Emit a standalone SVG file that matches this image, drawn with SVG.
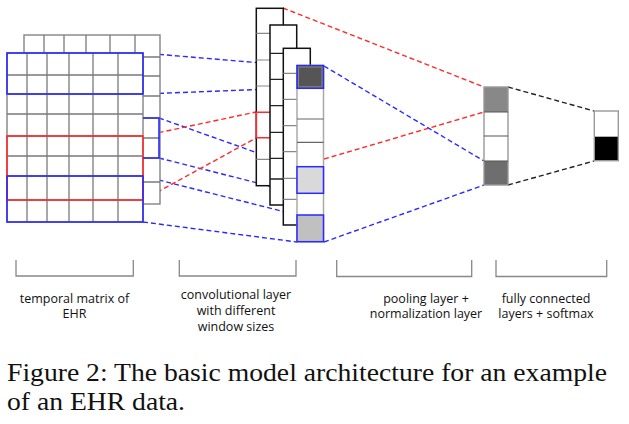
<svg xmlns="http://www.w3.org/2000/svg" width="629" height="424" viewBox="0 0 629 424">
<style>
.grid{fill:#fff;stroke:#7a7a7a;stroke-width:1.3}
.gl{stroke:#7a7a7a;stroke-width:1.3;fill:none}
.blue{fill:none;stroke:#2a2aff;stroke-width:1.6}
.red{fill:none;stroke:#ff2a2a;stroke-width:1.6}
.col{fill:#fff;stroke:#111;stroke-width:1.5}
.cl{stroke:#888;stroke-width:1.2}
.cl2{stroke:#222;stroke-width:1.3}
.db{stroke:#2a2aff;stroke-width:1.4;stroke-dasharray:5 3;fill:none}
.dr{stroke:#ff2a2a;stroke-width:1.4;stroke-dasharray:5 3;fill:none}
.dk{stroke:#222;stroke-width:1.4;stroke-dasharray:5 3;fill:none}
.br{fill:none;stroke:#888;stroke-width:1.3}
.lbl{font-family:"Open Sans","Liberation Sans",sans-serif;font-size:12.5px;fill:#111;text-anchor:middle}
.cap{font-family:"Liberation Serif",serif;font-size:25px;fill:#111}
</style>
<rect width="629" height="424" fill="#fff"/>

<g id="connectors">
<line class="db" x1="143" y1="53" x2="297" y2="66"/>
<line class="db" x1="143" y1="94" x2="297" y2="88"/>
<line class="db" x1="159" y1="118" x2="297" y2="167"/>
<line class="db" x1="159" y1="158" x2="297" y2="193"/>
<line class="db" x1="143" y1="176" x2="297" y2="215"/>
<line class="db" x1="143" y1="222" x2="297" y2="242"/>
<line class="dr" x1="143" y1="136" x2="256" y2="112"/>
<line class="dr" x1="143" y1="200" x2="256" y2="138"/>
<line class="dr" x1="283" y1="8" x2="484" y2="87"/>
<line class="dr" x1="324" y1="159" x2="484" y2="112"/>
<line class="db" x1="324" y1="66" x2="484" y2="161"/>
<line class="db" x1="324" y1="242" x2="484" y2="185"/>
<line class="dk" x1="508" y1="87" x2="594" y2="111"/>
<line class="dk" x1="508" y1="185" x2="594" y2="161"/>
</g>

<g id="ehr-matrix">
<g transform="translate(17,-18)">
<rect class="grid" x="7" y="53" width="136" height="169"/>
<path class="gl" d="M27 53V222M47 53V222M69 53V222M93 53V222M118 53V222M7 75H143M7 94H143M7 114H143M7 136H143M7 156H143M7 176H143M7 200H143"/>
</g>
<rect class="grid" x="7" y="53" width="136" height="169"/>
<path class="gl" d="M27 53V222M47 53V222M69 53V222M93 53V222M118 53V222M7 75H143M7 94H143M7 114H143M7 136H143M7 156H143M7 176H143M7 200H143"/>
<rect class="red" x="7" y="136" width="136" height="64"/>
<rect class="blue" x="7" y="53" width="136" height="41"/>
<rect class="blue" x="7" y="176" width="136" height="46"/>
<path class="blue" d="M143 118H159V158H143"/>
</g>

<g id="conv-layer">
<rect class="col" x="256.3" y="8.3" width="27" height="177.4"/>
<path class="cl" d="M256.3 33.3H283.3M256.3 60H283.3M256.3 86H283.3M256.3 159.3H283.3"/>
<path class="red" d="M270 112.3H256.3V137.7H270"/>
<rect class="col" x="270" y="25" width="26.7" height="180"/>
<path class="cl2" d="M270 53.3H296.7M270 79.3H296.7M270 105.7H296.7M270 132.3H296.7M270 158.3H296.7M270 179H296.7"/>
<rect class="col" x="283.3" y="48.3" width="27" height="176.7"/>
<path class="cl" d="M283.3 73.3H310.3M283.3 99.3H310.3M283.3 125.7H310.3M283.3 151.7H310.3M283.3 178.3H310.3M283.3 199.3H310.3"/>
<rect x="297" y="65.5" width="26.5" height="176.2" fill="#fff" stroke="#aaa" stroke-width="1.5"/>
<path d="M297 119H323.5M297 142.3H323.5" stroke="#666" stroke-width="1.2"/>
<rect x="297" y="65.5" width="26.5" height="22.8" fill="#555" stroke="#2a2aff" stroke-width="1.5"/>
<rect x="298.5" y="67" width="23.5" height="19.8" fill="#555" stroke="#888" stroke-width="1"/>
<rect x="297" y="166.7" width="26.5" height="26.6" fill="#d9d9d9" stroke="#2a2aff" stroke-width="1.5"/>
<rect x="297" y="215" width="26.5" height="26.7" fill="#c0c0c0" stroke="#2a2aff" stroke-width="1.5"/>
</g>

<g id="pooling-layer">
<rect x="484" y="87" width="24" height="25" fill="#888"/>
<rect x="484" y="112" width="24" height="24" fill="#fff"/>
<rect x="484" y="136" width="24" height="25" fill="#fff"/>
<rect x="484" y="161" width="24" height="24" fill="#6e6e6e"/>
<rect x="484" y="87" width="24" height="98" fill="none" stroke="#999" stroke-width="1.4"/>
<path d="M484 112H508M484 136H508M484 161H508" stroke="#555" stroke-width="1.2"/>
</g>

<g id="output-layer">
<rect x="594.3" y="111" width="24" height="25.7" fill="#fff"/>
<rect x="594.3" y="136.7" width="24" height="24" fill="#000"/>
<rect x="594.3" y="111" width="24" height="49.7" fill="none" stroke="#999" stroke-width="1.4"/>
</g>

<g id="brackets">
<path class="br" d="M16 260V276H133.3V260"/>
<path class="br" d="M179.3 260V276H296V260"/>
<path class="br" d="M336.7 260V276.5H471.7V260"/>
<path class="br" d="M496 260V276.5H606.7V260"/>
</g>

<g id="labels">
<text class="lbl" x="74.5" y="302.7">temporal matrix of</text>
<text class="lbl" x="74.5" y="318.3">EHR</text>
<text class="lbl" x="236" y="299.3">convolutional layer</text>
<text class="lbl" x="236" y="315">with different</text>
<text class="lbl" x="236" y="330.5">window sizes</text>
<text class="lbl" x="426" y="302.7">pooling layer +</text>
<text class="lbl" x="426" y="318.3">normalization layer</text>
<text class="lbl" x="546" y="302.7">fully connected</text>
<text class="lbl" x="546" y="318.3">layers + softmax</text>
</g>

<g id="caption">
<text class="cap" x="7" y="381" textLength="600" lengthAdjust="spacingAndGlyphs">Figure 2: The basic model architecture for an example</text>
<text class="cap" x="7" y="410" textLength="178" lengthAdjust="spacingAndGlyphs">of an EHR data.</text>
</g>
</svg>
